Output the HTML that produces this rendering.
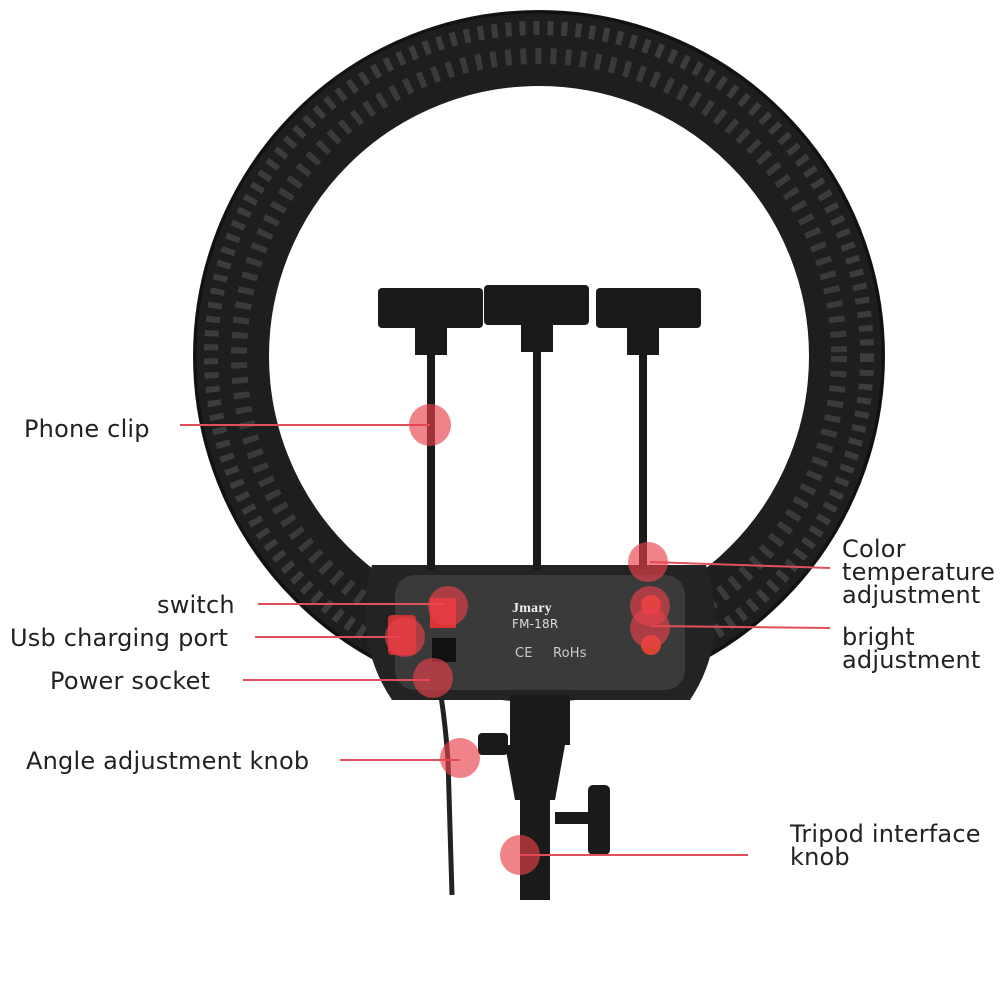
<!DOCTYPE html>
<html><head><style>
body{margin:0;background:#fff;}
svg{display:block}
text{font-family:"DejaVu Sans","Liberation Sans",sans-serif;font-size:24px;fill:#222;letter-spacing:0.2px}
</style></head><body>
<svg width="1000" height="1000" viewBox="0 0 1000 1000">
<circle cx="539" cy="356" r="308" fill="none" stroke="#1e1e1e" stroke-width="76"/>
<circle cx="539" cy="356" r="328" fill="none" stroke="#3c3c3c" stroke-width="14" stroke-dasharray="6 8"/>
<circle cx="539" cy="356" r="300" fill="none" stroke="#3a3a3a" stroke-width="16" stroke-dasharray="6 9"/>
<circle cx="539" cy="356" r="344" fill="none" stroke="#111" stroke-width="3"/>
<path d="M372 565 L706 565 Q730 640 690 700 L392 700 Q352 640 372 565 Z" fill="#232323"/>
<rect x="395" y="575" width="290" height="115" rx="20" fill="#3a3a3a"/>
<text x="512" y="612" style="font-size:14px;fill:#eee;font-weight:bold;font-family:'Liberation Serif',serif">Jmary</text>
<text x="512" y="628" style="font-size:12px;fill:#ddd">FM-18R</text>
<text x="553" y="657" style="font-size:13px;fill:#ccc">RoHs</text>
<text x="515" y="657" style="font-size:13px;fill:#ccc">CE</text>
<rect x="430" y="598" width="26" height="30" fill="#d33"/>
<rect x="388" y="615" width="28" height="40" rx="4" fill="#c33"/>
<rect x="432" y="638" width="24" height="24" fill="#111"/>
<circle cx="651" cy="605" r="10" fill="#d43"/>
<circle cx="651" cy="645" r="10" fill="#d43"/>
<g fill="#1a1a1a">
<rect x="427" y="340" width="8" height="230"/><rect x="533" y="340" width="8" height="230"/><rect x="639" y="340" width="8" height="230"/>
<rect x="378" y="288" width="105" height="40" rx="4"/><rect x="484" y="285" width="105" height="40" rx="4"/><rect x="596" y="288" width="105" height="40" rx="4"/>
<rect x="415" y="325" width="32" height="30"/><rect x="521" y="322" width="32" height="30"/><rect x="627" y="325" width="32" height="30"/>
<rect x="510" y="695" width="60" height="50"/>
<path d="M505 745 L565 745 L555 800 L515 800Z"/>
<rect x="520" y="800" width="30" height="100"/>
<rect x="478" y="733" width="30" height="22" rx="4"/>
<rect x="588" y="785" width="22" height="70" rx="5"/>
<rect x="555" y="812" width="35" height="12"/>
</g>
<path d="M440 690 Q445 720 448 760 L452 895" stroke="#222" stroke-width="5" fill="none"/>
<g stroke="#e0505a" stroke-width="2" fill="none">
<line x1="180" y1="425" x2="430" y2="425"/>
<line x1="258" y1="604" x2="445" y2="604"/>
<line x1="255" y1="637" x2="400" y2="637"/>
<line x1="243" y1="680" x2="430" y2="680"/>
<line x1="340" y1="760" x2="460" y2="760"/>
<line x1="650" y1="562" x2="830" y2="568"/>
<line x1="650" y1="626" x2="830" y2="628"/>
<line x1="520" y1="855" x2="748" y2="855"/>
</g>
<g fill="#e8404c" fill-opacity="0.65">
<circle cx="430" cy="425" r="21"/><circle cx="648" cy="562" r="20"/><circle cx="448" cy="606" r="20"/>
<circle cx="405" cy="637" r="20"/><circle cx="433" cy="678" r="20"/><circle cx="650" cy="606" r="20"/>
<circle cx="650" cy="628" r="20"/><circle cx="460" cy="758" r="20"/><circle cx="520" cy="855" r="20"/>
</g>
<text x="24" y="437">Phone clip</text>
<text x="157" y="613">switch</text>
<text x="10" y="646">Usb charging port</text>
<text x="50" y="689">Power socket</text>
<text x="26" y="769">Angle adjustment knob</text>
<text x="842" y="557">Color</text>
<text x="842" y="580">temperature</text>
<text x="842" y="603">adjustment</text>
<text x="842" y="645">bright</text>
<text x="842" y="668">adjustment</text>
<text x="790" y="842">Tripod interface</text>
<text x="790" y="865">knob</text>
</svg>
</body></html>
